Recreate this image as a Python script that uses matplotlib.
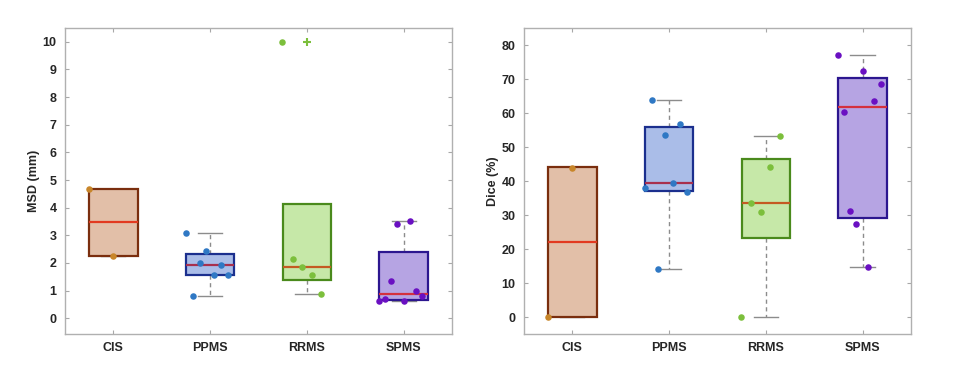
import matplotlib
matplotlib.use("Agg")
import matplotlib.pyplot as plt
import numpy as np

plt.rcParams['font.family'] = ['Liberation Sans', 'DejaVu Sans']

categories = ["CIS", "PPMS", "RRMS", "SPMS"]

# ---- MSD (mm) ----
msd_points = [
    [4.69, 2.27],
    [3.07, 2.43, 1.99, 1.94, 1.57, 1.57, 0.82],
    [10.0, 2.15, 1.84, 1.57, 0.87],
    [3.42, 3.53, 1.35, 0.97, 0.81, 0.62, 0.69, 0.63],
]
msd_jitter = [
    [-0.25, 0.0],
    [-0.25, -0.04, -0.107, 0.11, 0.038, 0.18, -0.18],
    [-0.254, -0.148, -0.05, 0.05, 0.148],
    [-0.065, 0.062, -0.127, 0.124, 0.19, -0.25, -0.19, 0.0],
]
msd_q1 = [2.27, 1.55, 1.39, 0.66]
msd_med = [3.50, 1.94, 1.84, 0.88]
msd_q3 = [4.69, 2.32, 4.12, 2.40]
msd_whislo = [2.27, 0.81, 0.87, 0.63]
msd_whishi = [4.69, 3.07, 4.12, 3.53]
msd_fliers = [[], [], [10.0], []]

# ---- Dice (%) ----
dice_points = [
    [0.0, 43.8],
    [63.8, 56.9, 53.4, 38.0, 39.3, 36.7, 14.1],
    [53.2, 44.2, 33.6, 30.9, 0.0],
    [77.2, 72.4, 68.4, 63.4, 60.2, 31.3, 27.3, 14.7],
]
dice_jitter = [
    [-0.247, 0.0],
    [-0.18, 0.11, -0.038, -0.25, 0.038, 0.18, -0.11],
    [0.144, 0.048, -0.15, -0.055, -0.254],
    [-0.254, 0.0, 0.19, 0.12, -0.19, -0.13, -0.07, 0.058],
]
dice_q1 = [0.0, 37.0, 23.1, 29.1]
dice_med = [22.0, 39.3, 33.6, 61.8]
dice_q3 = [44.0, 56.0, 46.6, 70.4]
dice_whislo = [0.0, 14.1, 0.0, 14.7]
dice_whishi = [44.0, 63.8, 53.2, 77.2]
dice_fliers = [[], [], [], []]

face_colors = ["#e2bfa8", "#aabde8", "#c6e8a8", "#b6a4e3"]
edge_colors = ["#7a2e0e", "#1b2f8e", "#4a8a1c", "#2c168f"]
median_colors = ["#e23a20", "#a8304e", "#c45a22", "#d4303e"]
point_colors = ["#c8862a", "#2f78c4", "#7cbf3c", "#6a10c2"]
flier_colors = ["#c8862a", "#2f78c4", "#7cbf3c", "#6a10c2"]
grey = "#8c8c8c"

fig = plt.figure(figsize=(9.59, 3.75), dpi=100)
ax1 = fig.add_axes([0.0678, 0.1093, 0.4035, 0.816])
ax2 = fig.add_axes([0.5464, 0.1093, 0.4035, 0.816])


def draw(ax, pts, jit, q1, med, q3, wlo, whi, fl, ylim, yticks, ylabel):
    positions = np.arange(1, len(categories) + 1)
    stats = []
    for i in range(len(categories)):
        stats.append(dict(q1=q1[i], med=med[i], q3=q3[i], whislo=wlo[i],
                          whishi=whi[i], fliers=fl[i], label=categories[i]))
    for i in range(len(categories)):
        b = ax.bxp([stats[i]], positions=[positions[i]], widths=0.5,
                   capwidths=0.25, patch_artist=True, showfliers=True,
                   boxprops=dict(facecolor=face_colors[i], edgecolor=edge_colors[i], linewidth=1.6),
                   medianprops=dict(color=median_colors[i], linewidth=1.6),
                   whiskerprops=dict(color=grey, linestyle=(0, (3, 2.5)), linewidth=1.0),
                   capprops=dict(color=grey, linewidth=1.0),
                   flierprops=dict(marker='+', markeredgecolor=flier_colors[i],
                                   markersize=6, markeredgewidth=1.5),
                   zorder=2)
        for w in b['whiskers']:
            w.set_zorder(1)
        for c in b['caps']:
            c.set_zorder(1)
    for i in range(len(categories)):
        xs = positions[i] + np.array(jit[i])
        ax.scatter(xs, pts[i], s=22, color=point_colors[i], zorder=4, linewidths=0)
    ax.set_xlim(0.5, 4.5)
    ax.set_ylim(*ylim)
    ax.set_xticks(positions)
    ax.set_xticklabels(categories, fontsize=9, fontweight='bold', color='#262626')
    ax.set_yticks(yticks)
    ax.set_yticklabels([str(t) for t in yticks], fontsize=9, fontweight='bold', color='#262626')
    ax.set_ylabel(ylabel, fontsize=9, fontweight='bold', color='#262626', labelpad=2)
    ax.tick_params(direction='in', top=True, right=True, length=3, color='#a8a8a8', pad=6)
    for s in ax.spines.values():
        s.set_color('#b0b0b0')
        s.set_linewidth(1.0)


draw(ax1, msd_points, msd_jitter, msd_q1, msd_med, msd_q3, msd_whislo, msd_whishi,
     msd_fliers, (-0.57, 10.5), list(range(0, 11)), "MSD (mm)")
draw(ax2, dice_points, dice_jitter, dice_q1, dice_med, dice_q3, dice_whislo, dice_whishi,
     dice_fliers, (-5, 85), list(range(0, 81, 10)), "Dice (%)")

fig.savefig("out.png", dpi=100)
